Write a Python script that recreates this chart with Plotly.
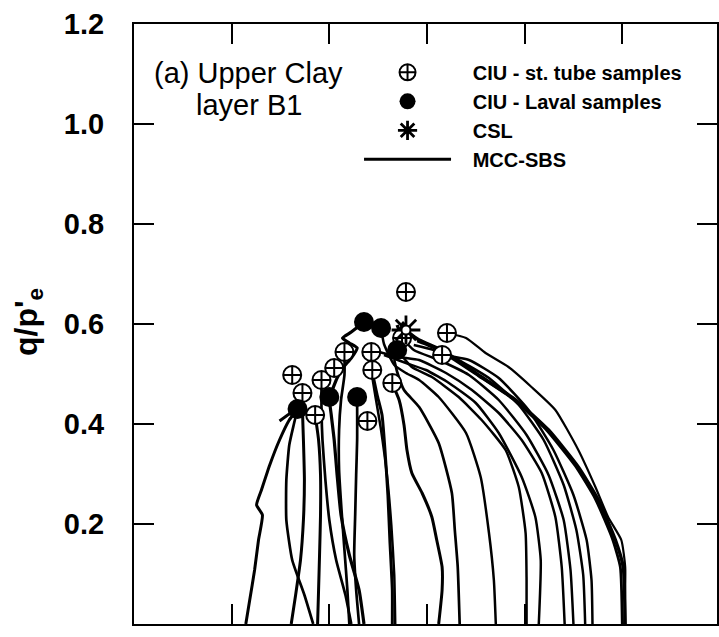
import plotly.graph_objects as go

# ---- stress paths (x = p'/p'e-normalised mean stress, y = q/p'e) ----
path01_x = [0.229, 0.237, 0.247, 0.255, 0.263, 0.251, 0.261, 0.278, 0.298, 0.318, 0.335, 0.318, 0.298]
path01_y = [0.000, 0.048, 0.108, 0.168, 0.218, 0.238, 0.268, 0.318, 0.368, 0.408, 0.430, 0.420, 0.406]

path02_x = [0.322, 0.331, 0.341, 0.347, 0.349, 0.347, 0.345, 0.345]
path02_y = [0.000, 0.058, 0.128, 0.208, 0.288, 0.368, 0.428, 0.458]

path03_x = [0.367, 0.349, 0.324, 0.312, 0.312, 0.318, 0.327, 0.335]
path03_y = [0.000, 0.058, 0.128, 0.208, 0.288, 0.358, 0.398, 0.430]

path04_x = [0.376, 0.378, 0.380, 0.382, 0.382, 0.378, 0.371]
path04_y = [0.000, 0.068, 0.138, 0.218, 0.298, 0.368, 0.418]

path05_x = [0.445, 0.433, 0.414, 0.400, 0.392, 0.386, 0.384, 0.384]
path05_y = [0.000, 0.058, 0.128, 0.208, 0.288, 0.368, 0.428, 0.488]

path06_x = [0.471, 0.461, 0.441, 0.424, 0.416, 0.410, 0.404, 0.400, 0.406, 0.416, 0.429,
            0.445, 0.457, 0.441, 0.427, 0.445, 0.471]
path06_y = [0.000, 0.068, 0.138, 0.218, 0.298, 0.368, 0.418, 0.454, 0.468, 0.492, 0.514,
            0.532, 0.552, 0.562, 0.572, 0.584, 0.604]

path07_x = [0.461, 0.455, 0.451, 0.453, 0.455, 0.457, 0.457]
path07_y = [0.000, 0.068, 0.138, 0.218, 0.298, 0.368, 0.454]

path08_x = [0.529, 0.529, 0.524, 0.520, 0.514, 0.508, 0.498, 0.488]
path08_y = [0.000, 0.068, 0.168, 0.258, 0.348, 0.418, 0.458, 0.504]

path09_x = [0.624, 0.631, 0.631, 0.620, 0.610, 0.590, 0.569, 0.559, 0.553, 0.543, 0.533, 0.529]
path09_y = [0.000, 0.068, 0.114, 0.168, 0.214, 0.262, 0.302, 0.348, 0.398, 0.448, 0.472, 0.482]

path10_x = [0.667, 0.663, 0.657, 0.651, 0.624, 0.584, 0.553, 0.539, 0.533]
path10_y = [0.000, 0.114, 0.188, 0.262, 0.362, 0.434, 0.468, 0.504, 0.528]

path11_x = [0.741, 0.737, 0.727, 0.710, 0.680, 0.624, 0.584, 0.557, 0.533, 0.512, 0.506]
path11_y = [0.000, 0.088, 0.182, 0.294, 0.382, 0.454, 0.488, 0.502, 0.518, 0.560, 0.592]

path12_x = [0.804, 0.804, 0.802, 0.788, 0.761, 0.712, 0.665, 0.610, 0.569, 0.539]
path12_y = [0.000, 0.088, 0.182, 0.274, 0.348, 0.408, 0.454, 0.494, 0.514, 0.548]

path13_x = [0.829, 0.833, 0.822, 0.794, 0.747, 0.700, 0.645, 0.598, 0.557, 0.512]
path13_y = [0.000, 0.128, 0.214, 0.294, 0.382, 0.442, 0.482, 0.508, 0.522, 0.538]

path14_x = [0.882, 0.876, 0.863, 0.835, 0.794, 0.747, 0.692, 0.639, 0.584, 0.543, 0.502]
path14_y = [0.000, 0.114, 0.214, 0.302, 0.368, 0.422, 0.468, 0.502, 0.528, 0.534, 0.544]

path15_x = [0.900, 0.894, 0.880, 0.849, 0.804, 0.747, 0.686, 0.624, 0.573, 0.549]
path15_y = [0.000, 0.108, 0.208, 0.298, 0.378, 0.448, 0.498, 0.528, 0.548, 0.572]

path16_x = [0.924, 0.920, 0.906, 0.880, 0.839, 0.788, 0.727, 0.665, 0.614, 0.573]
path16_y = [0.000, 0.098, 0.188, 0.278, 0.368, 0.438, 0.492, 0.528, 0.548, 0.558]

path17_x = [0.939, 0.937, 0.927, 0.900, 0.859, 0.808, 0.747, 0.686, 0.631]
path17_y = [0.000, 0.088, 0.168, 0.258, 0.348, 0.428, 0.492, 0.528, 0.538]

path18_x = [1.006, 1.002, 0.986, 0.951, 0.910, 0.849, 0.782, 0.712, 0.631, 0.584, 0.557,
            0.551, 0.545, 0.539]
path18_y = [0.000, 0.114, 0.168, 0.248, 0.314, 0.388, 0.448, 0.494, 0.548, 0.568, 0.588,
            0.602, 0.584, 0.598]

path19_x = [1.000, 0.996, 0.980, 0.945, 0.904, 0.843, 0.776, 0.706, 0.624, 0.580]
path19_y = [0.000, 0.114, 0.170, 0.250, 0.316, 0.390, 0.450, 0.496, 0.548, 0.566]

path20_x = [1.004, 1.006, 0.998, 0.971, 0.945, 0.910, 0.863, 0.814, 0.767, 0.720, 0.680, 0.641]
path20_y = [0.000, 0.114, 0.168, 0.214, 0.274, 0.348, 0.428, 0.474, 0.514, 0.542, 0.572, 0.582]

path21_x = [0.441, 0.437, 0.431, 0.425, 0.420, 0.420, 0.424, 0.431, 0.431]
path21_y = [0.000, 0.068, 0.148, 0.228, 0.308, 0.388, 0.448, 0.498, 0.544]

path22_x = [0.535, 0.533, 0.527, 0.518, 0.506, 0.494, 0.486, 0.486]
path22_y = [0.000, 0.098, 0.198, 0.298, 0.388, 0.458, 0.508, 0.544]

# ---- peak points ----
tube_x = [0.557, 0.641, 0.324, 0.345, 0.384, 0.371, 0.478, 0.488, 0.529, 0.486, 0.431, 0.631, 0.410, 0.549]
tube_y = [0.664, 0.582, 0.498, 0.462, 0.488, 0.418, 0.406, 0.508, 0.482, 0.544, 0.544, 0.538, 0.512, 0.572]

laval_x = [0.471, 0.506, 0.335, 0.400, 0.457, 0.539]
laval_y = [0.604, 0.592, 0.430, 0.454, 0.454, 0.548]

csl_x = [0.557]
csl_y = [0.588]

y_ticks = [0.0, 0.2, 0.4, 0.6, 0.8, 1.0, 1.2]
y_tick_text = ["0.0", "0.2", "0.4", "0.6", "0.8", "1.0", "1.2"]

FONT = "Liberation Sans, Arial, Helvetica, sans-serif"
PAD = "\u00a0\u00a0\u00a0"

paths = [
    (path01_x, path01_y, 3.0), (path02_x, path02_y, 3.0), (path03_x, path03_y, 2.7),
    (path04_x, path04_y, 3.0), (path05_x, path05_y, 2.7), (path06_x, path06_y, 3.2),
    (path07_x, path07_y, 2.7), (path08_x, path08_y, 3.0), (path09_x, path09_y, 3.0),
    (path10_x, path10_y, 2.7), (path11_x, path11_y, 2.5), (path12_x, path12_y, 2.5),
    (path13_x, path13_y, 2.5), (path14_x, path14_y, 2.5), (path15_x, path15_y, 2.5),
    (path16_x, path16_y, 2.5), (path17_x, path17_y, 2.5), (path18_x, path18_y, 3.4),
    (path19_x, path19_y, 2.8), (path20_x, path20_y, 2.2), (path21_x, path21_y, 2.7),
    (path22_x, path22_y, 2.5),
]

fig = go.Figure()

for i, (xs, ys, w) in enumerate(paths):
    fig.add_trace(go.Scatter(
        x=xs, y=ys, mode="lines",
        line=dict(color="black", width=w, shape="spline", smoothing=0.5),
        name=PAD + "MCC-SBS", legendgroup="mcc", legendrank=4,
        showlegend=(i == 0), hoverinfo="skip",
    ))

fig.add_trace(go.Scatter(
    x=tube_x, y=tube_y, mode="markers", name=PAD + "CIU - st. tube samples", legendrank=1,
    marker=dict(symbol="circle-cross", size=18, color="white",
                line=dict(color="black", width=2)),
))
fig.add_trace(go.Scatter(
    x=laval_x, y=laval_y, mode="markers", name=PAD + "CIU - Laval samples", legendrank=2,
    marker=dict(symbol="circle", size=20, color="black", line=dict(color="black", width=0)),
))
fig.add_trace(go.Scatter(
    x=csl_x, y=csl_y, mode="markers", name=PAD + "CSL", legendrank=3,
    marker=dict(symbol="asterisk-open", size=24, color="black",
                line=dict(color="black", width=2.8)),
))
fig.add_trace(go.Scatter(
    x=csl_x, y=csl_y, mode="markers", showlegend=False, hoverinfo="skip",
    marker=dict(symbol="circle", size=9, color="white", line=dict(color="black", width=2)),
))

axis_common = dict(
    showline=True, linewidth=2, linecolor="black", mirror="ticks",
    ticks="inside", ticklen=20, tickwidth=2, tickcolor="black",
    showgrid=False, zeroline=False,
)

fig.update_layout(
    width=719, height=637,
    margin=dict(l=134, r=0, t=24, b=13, pad=0),
    paper_bgcolor="white", plot_bgcolor="white",
    font=dict(family=FONT, color="black"),
    xaxis=dict(range=[0, 1.194], tick0=0, dtick=0.2, showticklabels=False, **axis_common),
    yaxis=dict(range=[0, 1.2], tickvals=y_ticks, ticktext=y_tick_text,
               ticklabelstandoff=22,
               tickfont=dict(family=FONT, size=29, weight="bold", color="black"),
               **axis_common),
    showlegend=True,
    legend=dict(
        x=0.386, y=0.952, xanchor="left", yanchor="top",
        bgcolor="rgba(0,0,0,0)", borderwidth=0,
        itemwidth=87, tracegroupgap=0, traceorder="normal",
        font=dict(family=FONT, size=20, weight="bold", color="black"),
    ),
    annotations=[
        dict(text="q/p'<sub>e</sub>", xref="paper", yref="paper", x=-0.1436, y=0.503,
             xanchor="right", yanchor="middle", textangle=-90, showarrow=False,
             font=dict(family=FONT, size=32, weight="bold", color="black")),
        dict(text="(a) Upper Clay", xref="paper", yref="paper", x=0.1966, y=0.918,
             xanchor="center", yanchor="middle", showarrow=False,
             font=dict(family=FONT, size=29, color="black")),
        dict(text="layer B1", xref="paper", yref="paper", x=0.1966, y=0.865,
             xanchor="center", yanchor="middle", showarrow=False,
             font=dict(family=FONT, size=29, color="black")),
    ],
)

fig.write_html("out.html")
